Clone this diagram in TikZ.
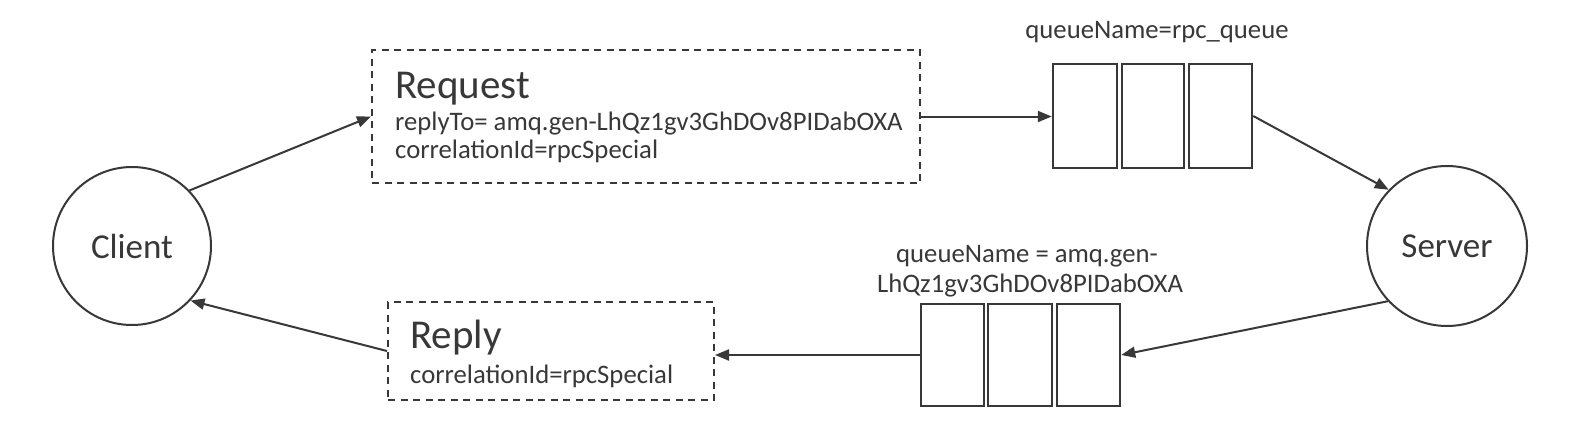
\documentclass[tikz,border=0pt]{standalone}
\usepackage{fontspec}
\setmainfont{Carlito}
\usetikzlibrary{arrows.meta}
\definecolor{ink}{HTML}{383838}
\begin{document}
\begin{tikzpicture}[x=1pt,y=-1pt,
  conn/.style={draw=ink,line width=2pt},
  arr/.style={conn,-{Triangle[length=14pt,width=11pt]}},
  actor/.style={circle,draw=ink,line width=2pt,inner sep=0pt,text=ink,font=\fontsize{35}{42}\selectfont},
  msgbox/.style={draw=ink,line width=2pt,dash pattern=on 7pt off 5.5pt,inner sep=0pt},
  qcell/.style={draw=ink,line width=2.5pt,inner sep=0pt},
  bigtxt/.style={text=ink,inner sep=0pt,anchor=base west,font=\fontsize{41}{48}\selectfont},
  smalltxt/.style={text=ink,inner sep=0pt,font=\fontsize{26.7}{31}\selectfont}
]
\path[use as bounding box,fill=white] (0,0) rectangle (1572,434);

% actors
\node[actor,minimum size=158pt] (client) at (132,246) {Client};
\node[actor,minimum size=160pt] (server) at (1447,246) {Server};

% request box
\node[msgbox,minimum width=548pt,minimum height=133pt] (req) at (646,116.5) {};
\node[bigtxt] (reqt) at (395,98) {Request};
\node[smalltxt,anchor=base west] (reqa) at (395,130) {replyTo= amq.gen-LhQz1gv3GhDOv8PIDabOXA};
\node[smalltxt,anchor=base west] (reqb) at (395,158) {correlationId=rpcSpecial};

% reply box
\node[msgbox,minimum width=326pt,minimum height=98pt] (rep) at (551,351) {};
\node[bigtxt] (rept) at (410,348) {Reply};
\node[smalltxt,anchor=base west] (repa) at (410,383) {correlationId=rpcSpecial};

% top queue
\node[qcell,minimum width=64pt,minimum height=104pt] (q1a) at (1085,116) {};
\node[qcell,minimum width=62pt,minimum height=104pt] (q1b) at (1153,116) {};
\node[qcell,minimum width=63pt,minimum height=104pt] (q1c) at (1220.5,116) {};
\node[smalltxt,anchor=base] (q1l) at (1157,38) {queueName=rpc\_queue};

% bottom queue
\node[qcell,minimum width=63pt,minimum height=102pt] (q2a) at (952.5,355) {};
\node[qcell,minimum width=64pt,minimum height=102pt] (q2b) at (1020,355) {};
\node[qcell,minimum width=63pt,minimum height=102pt] (q2c) at (1088.5,355) {};
\node[smalltxt,anchor=base] (q2l1) at (1027,262) {queueName = amq.gen-};
\node[smalltxt,anchor=base] (q2l2) at (1030,292) {LhQz1gv3GhDOv8PIDabOXA};

% connectors
\draw[arr] (client.44) -- (req.west);
\draw[arr] (req.east) -- (req.east -| q1a.west);
\draw[arr] (q1c.east) -- (server.136);
\draw[arr] (server.223) -- (q2c.east);
\draw[arr] (q2a.west) -- (q2a.west -| rep.east);
\draw[arr] (rep.west) -- (client.-43);
\end{tikzpicture}
\end{document}
